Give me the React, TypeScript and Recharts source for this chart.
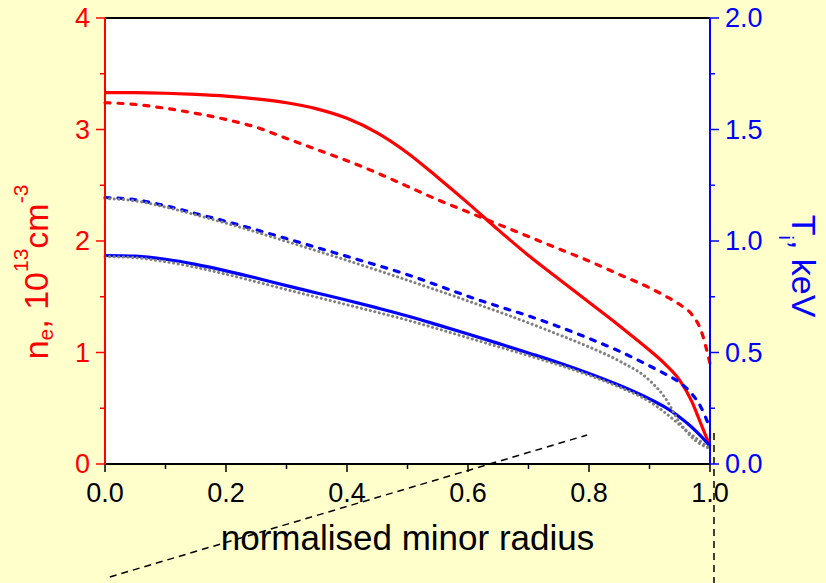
import React from 'react';
import {
  LineChart,
  Line,
  XAxis,
  YAxis,
  CartesianGrid,
  ReferenceLine,
} from 'recharts';

// normalised minor radius
const xs = [0, 0.05, 0.1, 0.15, 0.2, 0.25, 0.3, 0.35, 0.4, 0.45, 0.5, 0.55, 0.6, 0.65, 0.7, 0.75, 0.8, 0.85, 0.9, 0.925, 0.95, 0.97, 0.985, 1.0];

// n_e, 10^13 cm^-3 (left axis)
const neSolid = [3.33, 3.33, 3.325, 3.315, 3.3, 3.275, 3.24, 3.185, 3.1, 2.97, 2.79, 2.57, 2.34, 2.1, 1.87, 1.66, 1.45, 1.24, 1.02, 0.9, 0.75, 0.56, 0.36, 0.16];
const neDashed = [3.24, 3.225, 3.19, 3.145, 3.09, 3.02, 2.92, 2.82, 2.72, 2.61, 2.49, 2.37, 2.26, 2.15, 2.04, 1.93, 1.82, 1.7, 1.58, 1.51, 1.43, 1.34, 1.2, 0.9];

// T_i, keV (right axis)
const tiDashed = [1.195, 1.185, 1.158, 1.123, 1.088, 1.05, 1.011, 0.971, 0.931, 0.891, 0.849, 0.801, 0.752, 0.707, 0.664, 0.616, 0.563, 0.506, 0.44, 0.405, 0.365, 0.315, 0.255, 0.16];
const tiSolid = [0.935, 0.932, 0.918, 0.895, 0.866, 0.834, 0.8, 0.767, 0.734, 0.7, 0.664, 0.624, 0.583, 0.541, 0.498, 0.454, 0.406, 0.353, 0.292, 0.256, 0.21, 0.165, 0.125, 0.08];
const tiModelUpper = [1.19, 1.18, 1.152, 1.117, 1.08, 1.04, 0.998, 0.956, 0.913, 0.869, 0.824, 0.778, 0.731, 0.683, 0.633, 0.58, 0.525, 0.462, 0.375, 0.3, 0.185, 0.12, 0.088, 0.07];
const tiModelLower = [0.93, 0.925, 0.907, 0.882, 0.851, 0.817, 0.782, 0.748, 0.714, 0.68, 0.645, 0.606, 0.566, 0.526, 0.486, 0.444, 0.398, 0.345, 0.28, 0.232, 0.175, 0.13, 0.1, 0.07];

const xTicks = [0, 0.1, 0.2, 0.3, 0.4, 0.5, 0.6, 0.7, 0.8, 0.9, 1.0];
const leftTicks = [0, 0.5, 1, 1.5, 2, 2.5, 3, 3.5, 4];
const rightTicks = [0, 0.25, 0.5, 0.75, 1, 1.25, 1.5, 1.75, 2];

// dashed annotation strokes drawn across the figure
const guideDiagonal = [{ x: 0.008, y: -1.013 }, { x: 0.797, y: 0.26 }];
const guideVertical = [{ x: 1.0066, y: 0.278 }, { x: 1.0066, y: -1.067 }];

const data = xs.map((x, i) => ({
  x,
  neSolid: neSolid[i],
  neDashed: neDashed[i],
  tiDashed: tiDashed[i],
  tiSolid: tiSolid[i],
  tiModelUpper: tiModelUpper[i],
  tiModelLower: tiModelLower[i],
}));

const FONT = '"Liberation Sans", Arial, sans-serif';
const RED = '#ff0000';
const BLUE = '#0000ff';

const XTick = (props: any) => {
  const { x, y, payload } = props;
  const major = Math.round(payload.value * 10) % 2 === 0;
  return (
    <g>
      <line x1={x} y1={y} x2={x} y2={y + (major ? 8 : 5)} stroke="#000" strokeWidth={1.5} />
      {major && (
        <text x={x} y={y + 38} textAnchor="middle" fontSize={27} fontFamily={FONT} fill="#000">
          {payload.value.toFixed(1)}
        </text>
      )}
    </g>
  );
};

const LeftTick = (props: any) => {
  const { x, y, payload } = props;
  const major = Number.isInteger(payload.value);
  return (
    <g>
      <line x1={x - (major ? 9 : 5)} y1={y} x2={x} y2={y} stroke={RED} strokeWidth={1.5} />
      {major && (
        <text x={x - 15} y={y} textAnchor="end" dominantBaseline="central" fontSize={27} fontFamily={FONT} fill={RED}>
          {payload.value}
        </text>
      )}
    </g>
  );
};

const RightTick = (props: any) => {
  const { x, y, payload } = props;
  const major = Math.round(payload.value * 100) % 50 === 0;
  return (
    <g>
      <line x1={x} y1={y} x2={x + (major ? 9 : 5)} y2={y} stroke={BLUE} strokeWidth={1.5} />
      {major && (
        <text x={x + 15} y={y} textAnchor="start" dominantBaseline="central" fontSize={27} fontFamily={FONT} fill={BLUE}>
          {payload.value.toFixed(1)}
        </text>
      )}
    </g>
  );
};

const App = () => {
  return (
    <div style={{ position: 'fixed', left: 0, top: 0, width: 826, height: 583, background: '#ffffcc' }}>
      <LineChart width={826} height={583} data={data} margin={{ top: 18, right: 0, bottom: 0, left: 0 }}>
        <CartesianGrid yAxisId="left" horizontal={false} vertical={false} fill="#ffffff" fillOpacity={1} />
        <XAxis
          type="number"
          dataKey="x"
          domain={[0, 1]}
          ticks={xTicks}
          interval={0}
          height={119}
          tickSize={0}
          tickMargin={0}
          tickLine={false}
          tick={<XTick />}
          axisLine={{ stroke: '#000', strokeWidth: 2 }}
        />
        <YAxis
          yAxisId="left"
          orientation="left"
          domain={[0, 4]}
          ticks={leftTicks}
          interval={0}
          width={105}
          tickSize={0}
          tickMargin={0}
          tickLine={false}
          tick={<LeftTick />}
          axisLine={{ stroke: RED, strokeWidth: 2 }}
        />
        <YAxis
          yAxisId="right"
          orientation="right"
          domain={[0, 2]}
          ticks={rightTicks}
          interval={0}
          width={116}
          tickSize={0}
          tickMargin={0}
          tickLine={false}
          tick={<RightTick />}
          axisLine={{ stroke: BLUE, strokeWidth: 2 }}
        />
        <ReferenceLine yAxisId="left" y={4} stroke="#000" strokeWidth={2} />

        <Line yAxisId="left" type="monotone" dataKey="neSolid" stroke={RED} strokeWidth={3.2} dot={false} activeDot={false} isAnimationActive={false} />
        <Line yAxisId="left" type="monotone" dataKey="neDashed" stroke={RED} strokeWidth={3.2} strokeDasharray="5 8" strokeLinecap="round" dot={false} activeDot={false} isAnimationActive={false} />
        <Line yAxisId="right" type="monotone" dataKey="tiDashed" stroke={BLUE} strokeWidth={3.2} strokeDasharray="5 8" strokeLinecap="round" dot={false} activeDot={false} isAnimationActive={false} />
        <Line yAxisId="right" type="monotone" dataKey="tiSolid" stroke={BLUE} strokeWidth={3.2} dot={false} activeDot={false} isAnimationActive={false} />
        <Line yAxisId="right" type="monotone" dataKey="tiModelUpper" stroke="#808080" strokeWidth={3} strokeDasharray="0.1 4.5" strokeLinecap="round" dot={false} activeDot={false} isAnimationActive={false} />
        <Line yAxisId="right" type="monotone" dataKey="tiModelLower" stroke="#808080" strokeWidth={3} strokeDasharray="0.1 4.5" strokeLinecap="round" dot={false} activeDot={false} isAnimationActive={false} />

        <ReferenceLine yAxisId="left" segment={guideDiagonal} ifOverflow="visible" stroke="#000" strokeWidth={1.5} strokeDasharray="7 5" />
        <ReferenceLine yAxisId="left" segment={guideVertical} ifOverflow="visible" stroke="#000" strokeWidth={1.5} strokeDasharray="7 5" />
      </LineChart>

      <svg width={826} height={583} style={{ position: 'absolute', left: 0, top: 0, pointerEvents: 'none' }}>
        <text x={407.5} y={550} textAnchor="middle" fontSize={35} fontFamily={FONT} fill="#000">
          normalised minor radius
        </text>
        <text transform="translate(48,272) rotate(-90)" textAnchor="middle" fontSize={34} fontFamily={FONT} fill={RED}>
          n<tspan fontSize={21} dy={5}>e</tspan>
          <tspan dy={-5}>, 10</tspan>
          <tspan fontSize={21} dy={-20}>13</tspan>
          <tspan dy={20}>cm</tspan>
          <tspan fontSize={21} dy={-20}>-3</tspan>
        </text>
        <text transform="translate(792,266) rotate(90)" textAnchor="middle" fontSize={34} fontFamily={FONT} fill={BLUE}>
          T<tspan fontSize={20} dy={13}>i</tspan>
          <tspan dy={-13}>, keV</tspan>
        </text>
      </svg>
    </div>
  );
};

export default App;
